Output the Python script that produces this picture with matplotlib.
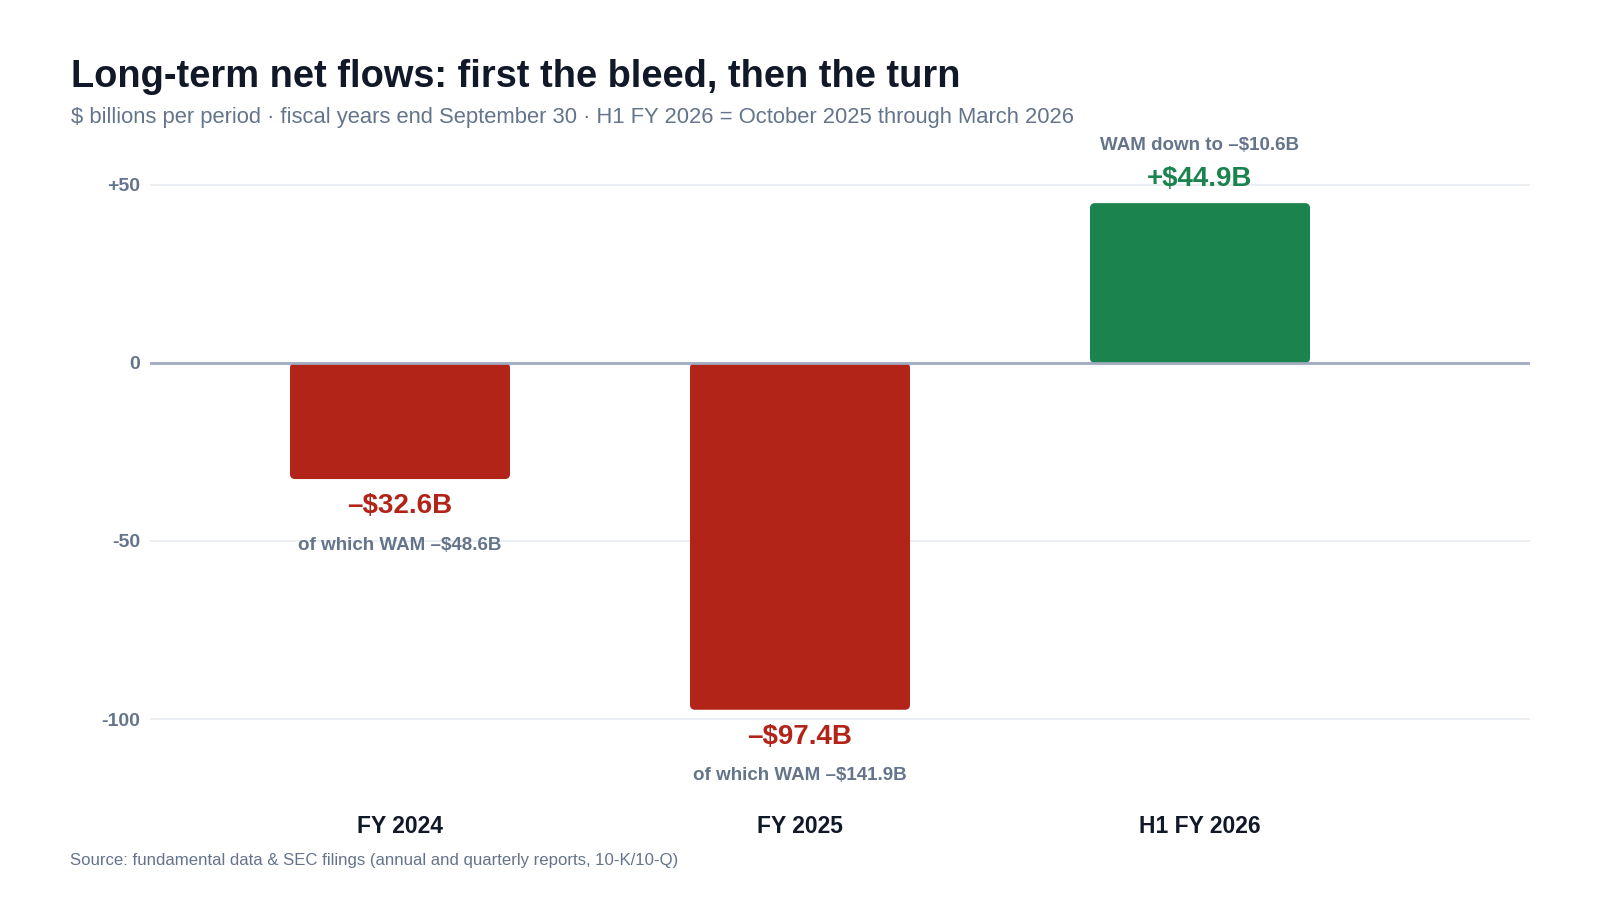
import matplotlib.pyplot as plt
from matplotlib.patches import FancyBboxPatch

plt.rcParams['font.family'] = ['Liberation Sans', 'DejaVu Sans']

periods = ["FY 2024", "FY 2025", "H1 FY 2026"]
net_flows = [-32.6, -97.4, 44.9]
value_labels = ["\u2013$32.6B", "\u2013$97.4B", "+$44.9B"]
wam_notes = ["of which WAM \u2013$48.6B", "of which WAM \u2013$141.9B", "WAM down to \u2013$10.6B"]
yticks = [50, 0, -50, -100]
ytick_labels = ["+50", "0", "-50", "-100"]

red = "#B22318"
green = "#1B834D"
slate = "#64748B"
dark = "#111827"

W, H = 1600, 900
fig = plt.figure(figsize=(16, 9), dpi=100)
# axes box in pixels: left 150, right 1530, top 154, bottom 800
ax = fig.add_axes([150/W, 1 - 800/H, 1380/W, 646/H])

x = list(range(len(periods)))
bw = 0.55
ax.set_xlim(-0.625, 2.825)
ax.set_ylim(-122.75, 58.7)

# px -> data units, used for the rounded bar corners
px_x = 3.45 / 1380
px_y = 181.45 / 646
for xi, v in zip(x, net_flows):
    col = green if v > 0 else red
    p = FancyBboxPatch((xi - bw/2, min(0, v)), bw, abs(v),
                       boxstyle="round,pad=0,rounding_size=%f" % (5 * px_x),
                       mutation_aspect=px_y / px_x,
                       facecolor=col, edgecolor="none", zorder=3)
    ax.add_patch(p)

for xi, v, lab, note in zip(x, net_flows, value_labels, wam_notes):
    col = green if v > 0 else red
    if v > 0:
        off1, off2 = 17.5, 41.5
    else:
        off1, off2 = -19.5, -47.5
    ax.annotate(lab, (xi, v), xytext=(0, off1), textcoords="offset points",
                ha="center", va="center", fontsize=20, fontweight="bold", color=col)
    ax.annotate(note, (xi, v), xytext=(0, off2), textcoords="offset points",
                ha="center", va="center", fontsize=13.5, fontweight="bold", color=slate)

for t in yticks:
    if t != 0:
        ax.axhline(t, color="#E8ECF1", linewidth=1.2, zorder=1)
ax.axhline(0, color="#A0AABE", linewidth=2, zorder=4)

ax.set_yticks(yticks)
ax.set_yticklabels(ytick_labels, fontsize=14, fontweight="bold", color=slate)
ax.set_xticks(x)
ax.set_xticklabels(periods, fontsize=16.5, fontweight="bold", color=dark)
ax.tick_params(axis="y", length=0, pad=7)
ax.tick_params(axis="x", length=0, pad=11)
for s in ax.spines.values():
    s.set_visible(False)

fig.text(71/W, 1 - 87/H, "Long-term net flows: first the bleed, then the turn",
         fontsize=27.4, fontweight="bold", color=dark, va="baseline", ha="left")
fig.text(71/W, 1 - 123/H,
         "$ billions per period \u00b7 fiscal years end September 30 \u00b7 H1 FY 2026 = October 2025 through March 2026",
         fontsize=15.8, color=slate, va="baseline", ha="left")
fig.text(70/W, 1 - 865/H,
         "Source: fundamental data & SEC filings (annual and quarterly reports, 10-K/10-Q)",
         fontsize=12.1, color=slate, va="baseline", ha="left")

fig.savefig("out.png", dpi=100, facecolor="white")
